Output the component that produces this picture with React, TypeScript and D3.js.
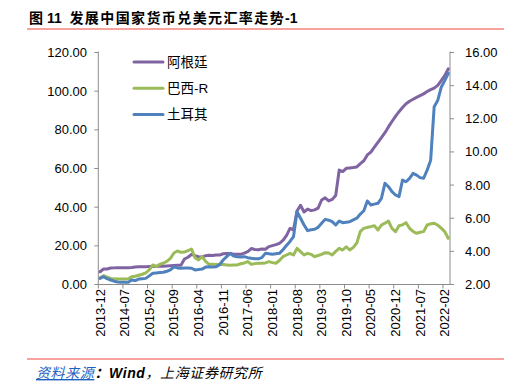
import React from "react";
import * as d3 from "d3";

const argentina = [6.6,8.0,8.0,8.5,8.6,8.7,8.7,8.7,8.7,8.8,9.0,9.2,9.2,9.2,9.3,9.3,9.4,9.4,9.5,9.6,9.7,9.8,9.9,10.0,13.2,14.1,15.6,14.9,14.4,14.2,14.9,15.1,15.0,15.3,15.2,15.9,16.0,16.0,15.7,15.6,15.6,16.2,17.0,18.6,18.1,18.0,18.4,18.2,19.6,20.1,20.6,21.3,22.8,25.3,29.0,28.2,38.0,41.0,37.5,39.0,38.2,38.6,39.5,43.7,44.8,43.2,44.0,46.0,59.2,58.4,60.1,60.3,60.5,60.8,62.5,64.0,67.0,68.5,71.0,73.5,76.0,78.5,81.5,84.3,87.0,89.4,91.5,93.5,94.8,95.8,96.8,97.7,98.6,99.8,100.8,101.6,103.0,105.5,108.0,111.5];
const brazil = [2.41,2.53,2.45,2.37,2.34,2.33,2.33,2.33,2.34,2.47,2.50,2.56,2.62,2.70,2.88,3.18,3.08,3.22,3.28,3.40,3.58,3.90,4.02,3.94,3.96,4.05,4.14,3.62,3.48,3.68,3.40,3.22,3.22,3.20,3.22,3.20,3.18,3.16,3.18,3.18,3.25,3.30,3.38,3.22,3.26,3.28,3.28,3.30,3.38,3.32,3.28,3.45,3.68,3.78,3.88,3.78,4.18,3.98,3.78,3.88,3.82,3.68,3.75,3.82,3.92,3.90,3.78,4.00,4.18,4.08,4.28,4.08,4.24,4.50,5.20,5.39,5.45,5.49,5.55,5.29,5.59,5.70,5.83,5.39,5.19,5.55,5.60,5.73,5.39,5.20,5.09,5.15,5.19,5.59,5.66,5.69,5.59,5.40,5.19,4.79];
const turkey = [2.37,2.47,2.35,2.27,2.20,2.15,2.13,2.13,2.14,2.27,2.24,2.33,2.35,2.37,2.52,2.68,2.70,2.72,2.74,2.80,2.88,3.07,3.00,2.98,3.00,2.99,2.98,2.88,2.90,2.93,3.05,3.07,3.05,3.07,3.20,3.48,3.68,3.88,3.72,3.68,3.66,3.68,3.62,3.58,3.56,3.55,3.62,3.88,3.86,3.82,3.85,3.88,4.10,4.35,4.60,4.88,6.39,6.00,5.59,5.25,5.30,5.33,5.45,5.69,5.93,5.88,5.79,5.59,5.83,5.73,5.76,5.79,5.90,6.00,6.25,6.45,7.04,6.80,6.85,6.90,7.20,8.11,7.90,7.60,7.40,7.30,8.30,8.20,8.40,8.71,8.60,8.45,8.41,8.90,9.50,12.73,13.10,13.90,14.30,14.74];

const xTickLabels = ["2013-12","2014-07","2015-02","2015-09","2016-04","2016-11","2017-06","2018-01","2018-08","2019-03","2019-10","2020-05","2020-12","2021-07","2022-02"];
const leftTicks = [0,20,40,60,80,100,120];
const rightTicks = [2,4,6,8,10,12,14,16];
const seriesNames = ["阿根廷","巴西-R","土耳其"];
const seriesColors = ["#8064A2","#9BBB59","#4F81BD"];

const X0 = 98.3, X1 = 450, YT = 52.5, YB = 284.5;
const FONT = "'Liberation Sans', 'Noto Sans CJK SC', sans-serif";

export default function App() {
  const n = argentina.length;
  const band = d3.scaleBand<number>().domain(d3.range(n)).range([X0, X1]).paddingInner(0).paddingOuter(0);
  const w = band.bandwidth();
  const xc = (i: number) => (band(i) as number) + w / 2;
  const yL = d3.scaleLinear().domain([0, 120]).range([YB, YT]);
  const yR = d3.scaleLinear().domain([2, 16]).range([YB, YT]);
  const lineL = d3.line<number>().x((_, i) => xc(i)).y((d) => yL(d));
  const lineR = d3.line<number>().x((_, i) => xc(i)).y((d) => yR(d));
  const axisColor = "#8c8c8c";
  const series = [
    { name: seriesNames[0], color: seriesColors[0], d: lineL(argentina) },
    { name: seriesNames[1], color: seriesColors[1], d: lineR(brazil) },
    { name: seriesNames[2], color: seriesColors[2], d: lineR(turkey) },
  ];
  return (
    <svg width={520} height={387} style={{ position: "absolute", left: 0, top: 0, background: "#fff" }} fontFamily={FONT}>
      <text x={29} y={23} fontSize={14} fontWeight="bold" fill="#000" xmlSpace="preserve">
        <tspan>图 11  </tspan>
        <tspan letterSpacing={1.4}>发展中国家货币兑美元汇率走势</tspan>
        <tspan>-1</tspan>
      </text>
      <line x1={27} x2={504} y1={29} y2={29} stroke="#F4837D" strokeWidth={1.6} />
      {/* axes */}
      <line x1={X0} x2={X0} y1={YT - 1} y2={YB} stroke={axisColor} />
      <line x1={X1} x2={X1} y1={YT - 1} y2={YB} stroke={axisColor} />
      <line x1={X0} x2={X1} y1={YB} y2={YB} stroke={axisColor} />
      {leftTicks.map((t) => (
        <g key={"l" + t}>
          <line x1={X0 - 4} x2={X0} y1={yL(t)} y2={yL(t)} stroke={axisColor} />
          <text x={87} y={yL(t)} dy="0.35em" textAnchor="end" fontSize={13} fill="#000">{t.toFixed(2)}</text>
        </g>
      ))}
      {rightTicks.map((t) => (
        <g key={"r" + t}>
          <line x1={X1} x2={X1 + 4} y1={yR(t)} y2={yR(t)} stroke={axisColor} />
          <text x={465} y={yR(t)} dy="0.35em" textAnchor="start" fontSize={13} fill="#000">{t.toFixed(2)}</text>
        </g>
      ))}
      {xTickLabels.map((lab, k) => {
        const tx = band(k * 7) as number;
        return (
          <g key={lab}>
            <line x1={tx} x2={tx} y1={YB} y2={YB + 4} stroke={axisColor} />
            <text transform={`translate(${xc(k * 7)},289) rotate(-90)`} dy="0.35em" textAnchor="end" fontSize={13} fill="#000">{lab}</text>
          </g>
        );
      })}
      {series.map((s) => (
        <path key={s.name} d={s.d || ""} fill="none" stroke={s.color} strokeWidth={3} strokeLinejoin="round" strokeLinecap="round" />
      ))}
      {series.map((s, i) => (
        <g key={"lg" + s.name}>
          <line x1={134} x2={163} y1={62 + i * 26.2} y2={62 + i * 26.2} stroke={s.color} strokeWidth={3} strokeLinecap="round" />
          <text x={167} y={62 + i * 26.2} dy="0.36em" fontSize={13.5} fill="#000">{s.name}</text>
        </g>
      ))}
      <line x1={27} x2={504} y1={359} y2={359} stroke="#F4837D" strokeWidth={1.6} />
      <text x={36} y={378} fontSize={14} fontStyle="italic" letterSpacing={0.6}>
        <tspan fill="#1F5FBF" style={{ textDecoration: "underline" }}>资料来源</tspan>
        <tspan fill="#000" fontWeight="bold">：Wind</tspan>
        <tspan fill="#000">，上海证券研究所</tspan>
      </text>
    </svg>
  );
}
